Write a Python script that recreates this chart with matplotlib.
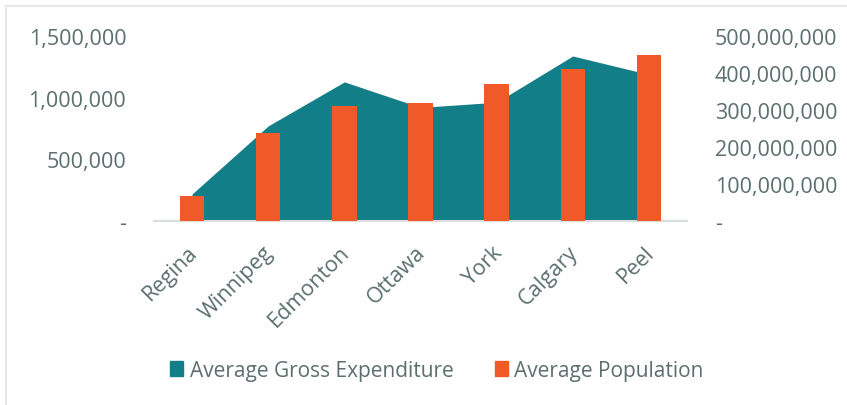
import matplotlib
matplotlib.use("Agg")
import matplotlib.pyplot as plt
from matplotlib.patches import Patch, Rectangle
from matplotlib.ticker import FuncFormatter
from matplotlib.transforms import ScaledTranslation
import numpy as np

categories = ["Regina", "Winnipeg", "Edmonton", "Ottawa", "York", "Calgary", "Peel"]
avg_gross_expenditure = [73e6, 257e6, 376e6, 307e6, 321e6, 446e6, 396e6]
avg_population = [205e3, 711e3, 933e3, 955e3, 1114e3, 1235e3, 1349e3]
left_ticks = [0, 500e3, 1000e3, 1500e3]
right_ticks = [0, 100e6, 200e6, 300e6, 400e6, 500e6]

teal = "#127E87"
orange = "#F05A28"
txt = "#5B6F6F"

plt.rcParams['font.family'] = ['Open Sans', 'DejaVu Sans']

fig = plt.figure(figsize=(8.47, 4.06), dpi=100)
ax = fig.add_axes([154/847, 1-222/406, (687-154)/847, (222-37)/406])
ax2 = ax.twinx()

x = np.arange(len(categories))
ax2.fill_between(x, avg_gross_expenditure, 0, color=teal, lw=0)
ax.bar(x, avg_population, width=0.32, color=orange, zorder=3)

ax.set_zorder(2)
ax2.set_zorder(1)
ax.patch.set_visible(False)

ax.set_xlim(-0.5, len(categories)-0.5)
ax.set_ylim(0, 1.5e6)
ax2.set_ylim(0, 5e8)

fmt = FuncFormatter(lambda v, p: "-" if v == 0 else f"{v:,.0f}")
ax.set_yticks(left_ticks)
ax.yaxis.set_major_formatter(fmt)
ax2.set_yticks(right_ticks)
ax2.yaxis.set_major_formatter(fmt)

for a in (ax, ax2):
    for s in a.spines.values():
        s.set_visible(False)
    a.tick_params(length=0, labelsize=15.5, labelcolor=txt)
ax.tick_params(axis='y', pad=20)
ax2.tick_params(axis='y', pad=20)
ax.spines['bottom'].set_visible(True)
ax.spines['bottom'].set_color("#D9DDDD")
ax.spines['bottom'].set_linewidth(1.5)

ax.set_xticks(x)
ax.set_xticklabels(categories, rotation=45, ha='right', va='center', rotation_mode='anchor')
ax.tick_params(axis='x', pad=20, labelsize=15.5)
off = ScaledTranslation(2/100, 0, fig.dpi_scale_trans)
for lab in ax.get_xticklabels():
    lab.set_transform(lab.get_transform() + off)

handles = [Patch(color=teal, label="Average Gross Expenditure"),
           Patch(color=orange, label="Average Population")]
fig.legend(handles=handles, loc='center', bbox_to_anchor=(437/847, 1-371/406), ncol=2,
           frameon=False, fontsize=15, labelcolor=txt, handlelength=0.62, handleheight=0.7,
           handletextpad=0.3, columnspacing=2.0)

fig.patches.append(Rectangle((6/847, -0.1), 1.2, 1-7/406+0.1, transform=fig.transFigure,
                             fill=False, edgecolor="#E8E8E8", lw=1.5))

fig.savefig("out.png", dpi=100, facecolor="white")
